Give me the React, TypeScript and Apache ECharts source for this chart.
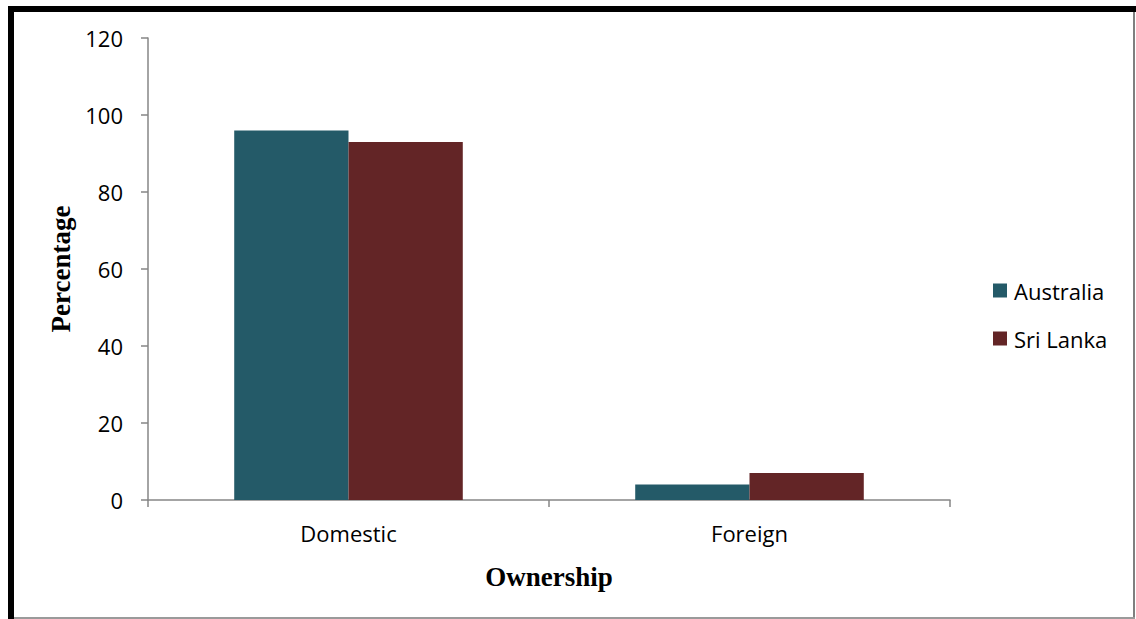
import React, { useEffect, useRef } from "react";
import * as echarts from "echarts";

const categories = ["Domestic", "Foreign"];
const australia = [96, 4];
const sriLanka = [93, 7];
const yTicks = { min: 0, max: 120, interval: 20 };

export default function App() {
  const ref = useRef<HTMLDivElement>(null);
  useEffect(() => {
    const chart = echarts.init(ref.current!, null, { renderer: "svg" });
    const axisGray = "#868686";
    const labelFont = "'Open Sans', 'Noto Sans', sans-serif";
    const serif = "'Liberation Serif', 'Times New Roman', serif";
    chart.setOption({
      animation: false,
      backgroundColor: "#ffffff",
      grid: { left: 148, top: 38, right: 186, bottom: 119, containLabel: false },
      legend: {
        orient: "vertical",
        left: 993,
        top: 279,
        padding: 0,
        itemWidth: 14,
        itemHeight: 14,
        itemGap: 25,
        icon: "rect",
        textStyle: { fontFamily: labelFont, fontSize: 22, color: "#000", lineHeight: 23, padding: [0, 0, 0, 2] },
        data: ["Australia", "Sri Lanka"],
      },
      xAxis: {
        type: "category",
        data: categories,
        name: "Ownership",
        nameLocation: "middle",
        nameGap: 63,
        nameTextStyle: { fontFamily: serif, fontWeight: "bold", fontSize: 27, color: "#000" },
        axisLine: { show: true, lineStyle: { color: axisGray, width: 1.5 } },
        axisTick: { show: true, length: 7, lineStyle: { color: axisGray, width: 1.5 } },
        axisLabel: { fontFamily: labelFont, fontSize: 22, color: "#000", margin: 22 },
      },
      yAxis: {
        type: "value",
        min: yTicks.min,
        max: yTicks.max,
        interval: yTicks.interval,
        name: "Percentage",
        nameLocation: "middle",
        nameGap: 72,
        nameTextStyle: { fontFamily: serif, fontWeight: "bold", fontSize: 27, color: "#000" },
        axisLine: { show: true, lineStyle: { color: axisGray, width: 1.5 } },
        axisTick: { show: true, length: 7, lineStyle: { color: axisGray, width: 1.5 } },
        splitLine: { show: false },
        axisLabel: { fontFamily: labelFont, fontSize: 22, color: "#000", margin: 25 },
      },
      series: [
        {
          name: "Australia",
          type: "bar",
          data: australia,
          barGap: "0%",
          barCategoryGap: "43%",
          itemStyle: { color: "#245A68" },
        },
        {
          name: "Sri Lanka",
          type: "bar",
          data: sriLanka,
          barGap: "0%",
          barCategoryGap: "43%",
          itemStyle: { color: "#632526" },
        },
      ],
      graphic: [
        { type: "rect", shape: { x: 8, y: 6, width: 1128, height: 6 }, style: { fill: "#000" } },
        { type: "rect", shape: { x: 8, y: 6, width: 6, height: 613 }, style: { fill: "#000" } },
        { type: "rect", shape: { x: 1133, y: 12, width: 2, height: 607 }, style: { fill: "#7f7f7f" } },
        { type: "rect", shape: { x: 14, y: 617, width: 1121, height: 2 }, style: { fill: "#9a9a9a" } },
      ],
    });
    return () => chart.dispose();
  }, []);
  return (
    <div
      ref={ref}
      style={{ position: "fixed", left: 0, top: 0, width: 1136, height: 619 }}
    />
  );
}
